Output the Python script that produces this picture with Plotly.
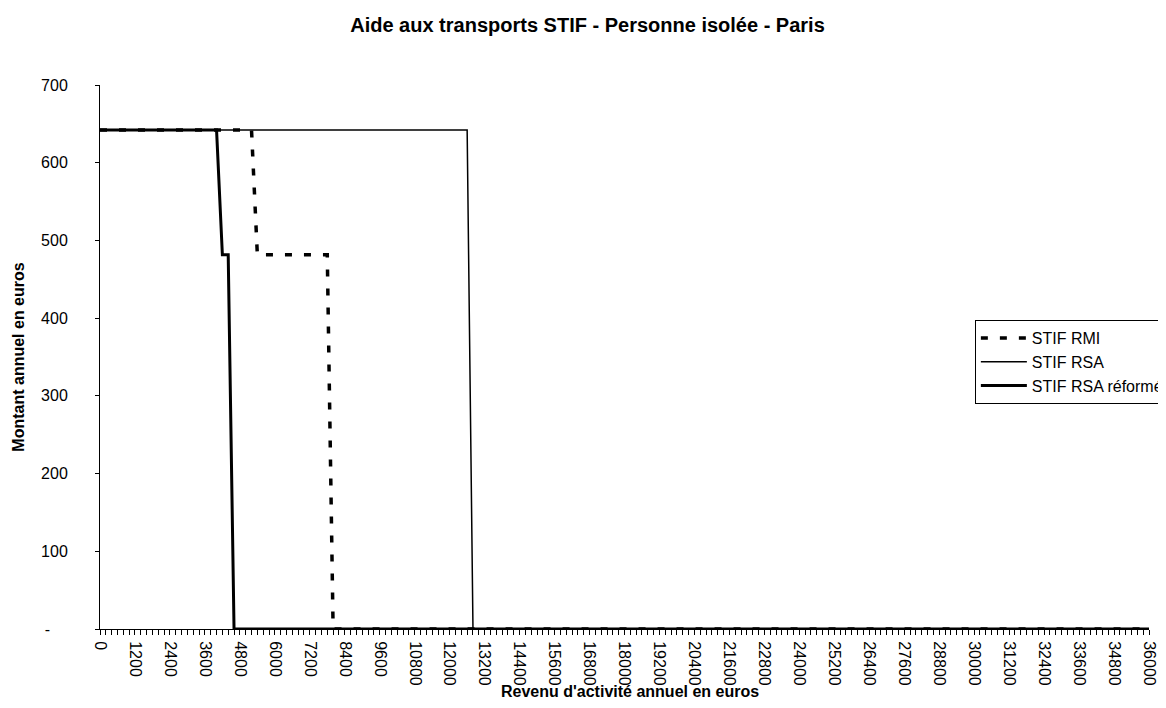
import plotly.graph_objects as go

# Breakpoints of each step curve (revenu annuel -> montant annuel)
rmi_revenu = [0, 5200, 5400, 7800, 8000, 36000]
rmi_montant = [642, 642, 481.5, 481.5, 0, 0]

rsa_revenu = [0, 12600, 12800, 36000]
rsa_montant = [642, 642, 0, 0]

reforme_revenu = [0, 4000, 4200, 4400, 4600, 36000]
reforme_montant = [642, 642, 481.5, 481.5, 0, 0]

x_ticks = list(range(0, 36001, 1200))
x_ticktext = [str(v) for v in x_ticks]
y_ticks = [0, 100, 200, 300, 400, 500, 600, 700]
y_ticktext = ['-' + '\u00a0' * 4, '100', '200', '300', '400', '500', '600', '700']

FONT = 'Liberation Sans, Arial, sans-serif'

# the page body adds an 8px margin, so the figure is sized to fit the window
W, H = 1150, 692

fig = go.Figure()
fig.add_trace(go.Scatter(
    x=rmi_revenu, y=rmi_montant, mode='lines', name='STIF RMI',
    line=dict(color='black', width=3.5, dash='7px,12px'), cliponaxis=False
))
fig.add_trace(go.Scatter(
    x=rsa_revenu, y=rsa_montant, mode='lines', name='STIF RSA',
    line=dict(color='black', width=1.5), cliponaxis=False
))
fig.add_trace(go.Scatter(
    x=reforme_revenu, y=reforme_montant, mode='lines', name='STIF RSA réformé',
    line=dict(color='black', width=3), cliponaxis=False
))

fig.update_layout(
    width=W, height=H,
    paper_bgcolor='white', plot_bgcolor='white',
    font=dict(family=FONT, size=16, color='black'),
    margin=dict(l=92, r=9, t=77, b=71, autoexpand=False),
    title=dict(
        text='<b>Aide aux transports STIF - Personne isolée - Paris</b>',
        x=579.5 / W, xref='container', xanchor='center',
        y=1 - 17 / H, yref='container', yanchor='middle',
        font=dict(size=20)
    ),
    legend=dict(
        x=0.834, y=0.568, xanchor='left', yanchor='top',
        bordercolor='black', borderwidth=1, bgcolor='white',
        font=dict(size=16), itemwidth=46, tracegroupgap=0
    ),
    showlegend=True
)

fig.add_annotation(
    text="<b>Revenu d'activité annuel en euros</b>",
    xref='paper', yref='paper', x=0.505, y=-62 / 544,
    xanchor='center', yanchor='middle', showarrow=False,
    font=dict(size=16)
)

fig.update_xaxes(
    range=[0, 36000], tickvals=x_ticks, ticktext=x_ticktext, tickangle=90,
    showline=True, linecolor='black', linewidth=1,
    ticks='outside', ticklen=5, tickcolor='black', ticklabelstandoff=3,
    ticklabeloverflow='allow',
    minor=dict(dtick=200, ticks='outside', ticklen=5, tickcolor='black', showgrid=False),
    showgrid=False, zeroline=False, tickfont=dict(size=16)
)
fig.update_yaxes(
    range=[0, 700], tickvals=y_ticks, ticktext=y_ticktext,
    showline=True, linecolor='black', linewidth=1,
    ticks='outside', ticklen=4, tickcolor='black', ticklabelstandoff=24,
    showgrid=False, zeroline=False, tickfont=dict(size=16),
    title=dict(text='<b>Montant annuel en euros</b>', font=dict(size=16), standoff=12)
)

fig.write_html("out.html")
